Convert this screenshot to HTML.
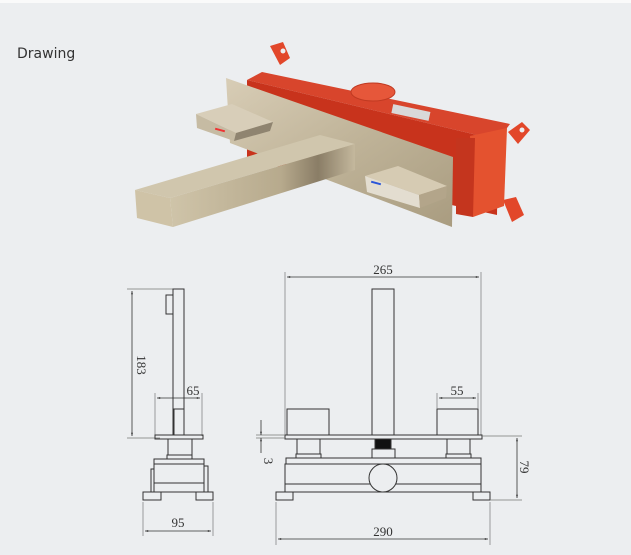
<!DOCTYPE html>
<html><head><style>
html,body{margin:0;padding:0;background:#eceef0;}
svg{display:block;}
</style></head><body>
<svg width="631" height="555" viewBox="0 0 631 555" xmlns="http://www.w3.org/2000/svg">
<defs>
<linearGradient id="nk" x1="0" y1="0" x2="1" y2="1">
<stop offset="0" stop-color="#d8cdb6"/><stop offset="0.5" stop-color="#bfb398"/><stop offset="1" stop-color="#a99c80"/>
</linearGradient>
<linearGradient id="nk2" x1="0" y1="0" x2="1" y2="0">
<stop offset="0" stop-color="#cfc4a9"/><stop offset="0.6" stop-color="#b7aa8d"/><stop offset="0.8" stop-color="#8a7d66"/><stop offset="1" stop-color="#c4b89d"/>
</linearGradient>
<marker id="a" viewBox="0 0 10 10" refX="10" refY="5" markerWidth="7" markerHeight="4" orient="auto-start-reverse"><path d="M0,2 L10,5 L0,8 z" fill="#333"/></marker>
</defs>
<rect x="0" y="0" width="631" height="3" fill="#fafafa"/>
<rect x="0" y="3" width="631" height="552" fill="#eceef0"/>
<text x="17" y="58" font-family="'DejaVu Sans','Liberation Sans',sans-serif" font-size="14" fill="#333">Drawing</text>

<!-- photo -->
<g>
<!-- ears -->
<path d="M270,46 L283,42 L290,58 L280,65 Z" fill="#e2472a"/>
<circle cx="283" cy="51" r="2.5" fill="#eceef0"/>
<path d="M508,132 L522,122 L530,130 L518,144 Z" fill="#e2472a"/>
<circle cx="522" cy="130" r="2.5" fill="#eceef0"/>
<path d="M503,200 L516,197 L524,215 L512,222 Z" fill="#e2472a"/>
<!-- red box -->
<path d="M247,80 L262,72 L510,124 L498,140 Z" fill="#d8452c"/>
<path d="M247,80 L498,140 L497,215 L247,160 Z" fill="#c8331c"/>
<path d="M470,136 L507,128 L504,206 L473,217 Z" fill="#e4522f"/>
<path d="M456,138 L475,138 L473,217 L456,214 Z" fill="#c4351e"/>
<ellipse cx="373" cy="92" rx="22" ry="9" fill="#e6573a" stroke="#c03a22"/>
<rect x="392" y="108" width="38" height="9" fill="#d9d9d9" transform="rotate(12 411 112)"/>
<!-- plate -->
<path d="M226,78 L453,157 L452,227 L230,143 Z" fill="url(#nk)"/>
<!-- left handle -->
<path d="M196,114 L232,104 L273,122 L236,133 Z" fill="#d8ceb9"/>
<path d="M196,114 L236,133 L234,141 L197,128 Z" fill="#c6bba3"/>
<path d="M236,133 L273,122 L270,131 L234,141 Z" fill="#8f8470"/>
<rect x="215" y="129" width="10" height="2" fill="#e33" transform="rotate(15 220 130)"/>
<!-- spout -->
<path d="M135,190 L320,135 L355,144 L170,198 Z" fill="#d0c6ad"/>
<path d="M170,198 L355,144 L355,170 L173,227 Z" fill="url(#nk2)"/>
<path d="M135,190 L170,198 L173,227 L137,218 Z" fill="#cfc3a7"/>
<!-- right handle -->
<path d="M365,176 L398,166 L447,186 L419,195 Z" fill="#d6cbb3"/>
<path d="M365,176 L419,195 L420,208 L367,192 Z" fill="#e3ddd0"/>
<path d="M419,195 L447,186 L446,198 L420,208 Z" fill="#b3a58a"/>
<rect x="371" y="182" width="10" height="2" fill="#2a55d8" transform="rotate(15 376 183)"/>
</g>

<!-- technical drawing -->
<g fill="none" stroke="#333" stroke-width="1">
<!-- side view -->
<line x1="127" y1="289" x2="175" y2="289" stroke="#777" stroke-width="0.7"/>
<line x1="127" y1="438" x2="160" y2="438" stroke="#777" stroke-width="0.7"/>
<line x1="132" y1="291" x2="132" y2="436" marker-start="url(#a)" marker-end="url(#a)" stroke-width="0.8"/>
<rect x="173" y="289" width="11" height="146"/>
<rect x="166" y="295" width="7" height="19"/>
<rect x="174" y="409" width="10" height="26"/>
<line x1="155" y1="393" x2="155" y2="436" stroke="#777" stroke-width="0.7"/>
<line x1="202" y1="393" x2="202" y2="436" stroke="#777" stroke-width="0.7"/>
<line x1="157" y1="398" x2="200" y2="398" marker-start="url(#a)" marker-end="url(#a)" stroke-width="0.8"/>
<rect x="155" y="435" width="48" height="4"/>
<rect x="168" y="439" width="24" height="16"/>
<rect x="167" y="455" width="25" height="4"/>
<rect x="154" y="459" width="50" height="5"/>
<rect x="154" y="464" width="50" height="28"/>
<rect x="151" y="469" width="3" height="23"/>
<rect x="204" y="466" width="4" height="26"/>
<line x1="154" y1="483" x2="204" y2="483"/>
<rect x="143" y="492" width="18" height="8"/>
<rect x="196" y="492" width="17" height="8"/>
<line x1="143" y1="502" x2="143" y2="536" stroke="#777" stroke-width="0.7"/>
<line x1="213" y1="502" x2="213" y2="536" stroke="#777" stroke-width="0.7"/>
<line x1="145" y1="531" x2="211" y2="531" marker-start="url(#a)" marker-end="url(#a)" stroke-width="0.8"/>

<!-- front view -->
<line x1="285" y1="272" x2="285" y2="435" stroke="#777" stroke-width="0.7"/>
<line x1="481" y1="272" x2="481" y2="435" stroke="#777" stroke-width="0.7"/>
<line x1="287" y1="277" x2="479" y2="277" marker-start="url(#a)" marker-end="url(#a)" stroke-width="0.8"/>
<rect x="372" y="289" width="22" height="146"/>
<rect x="285" y="435" width="197" height="4"/>
<rect x="287" y="409" width="42" height="26"/>
<rect x="437" y="409" width="41" height="26"/>
<line x1="437" y1="393" x2="437" y2="409" stroke="#777" stroke-width="0.7"/>
<line x1="478" y1="393" x2="478" y2="409" stroke="#777" stroke-width="0.7"/>
<line x1="439" y1="398" x2="476" y2="398" marker-start="url(#a)" marker-end="url(#a)" stroke-width="0.8"/>
<rect x="375" y="439" width="16" height="10" fill="#111"/>
<rect x="372" y="449" width="23" height="9"/>
<rect x="297" y="439" width="23" height="15"/>
<rect x="296" y="454" width="25" height="4"/>
<rect x="447" y="439" width="23" height="15"/>
<rect x="446" y="454" width="25" height="4"/>
<rect x="286" y="458" width="195" height="6"/>
<rect x="285" y="464" width="196" height="28"/>
<line x1="285" y1="484" x2="481" y2="484"/>
<circle cx="383" cy="478" r="14" fill="#eceef0"/>
<rect x="276" y="492" width="17" height="8"/>
<rect x="473" y="492" width="17" height="8"/>
<line x1="276" y1="502" x2="276" y2="545" stroke="#777" stroke-width="0.7"/>
<line x1="490" y1="502" x2="490" y2="545" stroke="#777" stroke-width="0.7"/>
<line x1="278" y1="539" x2="488" y2="539" marker-start="url(#a)" marker-end="url(#a)" stroke-width="0.8"/>
<!-- 3 dim -->
<line x1="256" y1="435" x2="285" y2="435" stroke="#777" stroke-width="0.7"/>
<line x1="256" y1="438" x2="285" y2="438" stroke="#777" stroke-width="0.7"/>
<line x1="261" y1="420" x2="261" y2="435" marker-end="url(#a)" stroke-width="0.8"/>
<line x1="261" y1="453" x2="261" y2="438" marker-end="url(#a)" stroke-width="0.8"/>
<!-- 79 dim -->
<line x1="482" y1="436" x2="522" y2="436" stroke="#777" stroke-width="0.7"/>
<line x1="490" y1="500" x2="522" y2="500" stroke="#777" stroke-width="0.7"/>
<line x1="517" y1="438" x2="517" y2="498" marker-start="url(#a)" marker-end="url(#a)" stroke-width="0.8"/>
</g>
<g font-family="'Liberation Serif',serif" font-size="13" fill="#333" text-anchor="middle">
<text x="383" y="274">265</text>
<text x="193" y="395">65</text>
<text x="457" y="395">55</text>
<text x="178" y="527">95</text>
<text x="383" y="536">290</text>
<text transform="translate(137,365) rotate(90)">183</text>
<text transform="translate(264,461) rotate(90)">3</text>
<text transform="translate(520,467) rotate(90)">79</text>
</g>
</svg>
</body></html>
